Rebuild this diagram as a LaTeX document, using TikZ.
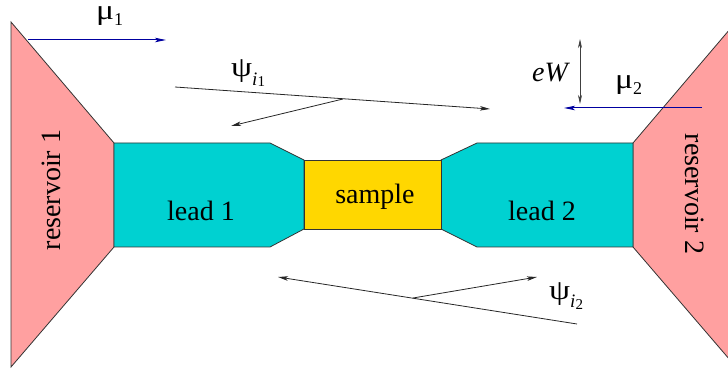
\documentclass[tikz,border=0pt]{standalone}
\usepackage{fontspec}
\setmainfont{Liberation Serif}
\usetikzlibrary{arrows.meta}
\definecolor{respink}{RGB}{255,160,160}
\definecolor{leadcyan}{RGB}{0,209,209}
\definecolor{samplegold}{RGB}{255,215,0}
\definecolor{potblue}{RGB}{0,0,160}
\newcommand{\mygreek}[1]{\scalebox{1.2}[1.0]{#1}}
\newcommand{\mysub}[1]{\raisebox{-6pt}{\fontsize{18}{18}\selectfont #1}}
\newcommand{\mypsisub}[1]{\raisebox{-9pt}{\fontsize{19}{19}\selectfont\itshape i\raisebox{-1pt}{\upshape\fontsize{15}{15}\selectfont #1}}}
\begin{document}
\begin{tikzpicture}[x=1pt,y=-1pt,
 region/.style={draw=black!80,line width=0.8pt,line join=miter},
 lbl/.style={inner sep=0pt,font=\fontsize{28}{30}\selectfont},
 wave/.style={line width=0.8pt,draw=black!85,-{Stealth[length=10pt,width=4.5pt,inset=2.5pt]}},
 pot/.style={line width=1pt,draw=potblue,-{Stealth[length=11pt,width=4.5pt,inset=2.5pt]}},
 gap/.style={line width=0.8pt,draw=black!75,{Stealth[length=9pt,width=4pt,inset=2.5pt]}-{Stealth[length=9pt,width=4pt,inset=2.5pt]}}]
\useasboundingbox (0,0) rectangle (728,371);
\clip (0,0) rectangle (728,371);
% regions
\path[region,fill=respink] (11,22) -- (114,143) -- (114,247) -- (11,367) -- cycle;
\path[region,fill=respink] (633,143) -- (736,22) -- (736,367) -- (633,247) -- cycle;
\path[region,fill=leadcyan] (114,143) -- (270,143) -- (304,160) -- (304,229) -- (270,247) -- (114,247) -- cycle;
\path[region,fill=leadcyan] (441,160) -- (477,143) -- (633,143) -- (633,247) -- (477,247) -- (441,229) -- cycle;
\path[region,fill=samplegold] (304,160) rectangle (441,229);
% labels
\node[lbl,rotate=90] (res1) at (51,190) {reservoir 1};
\node[lbl,rotate=-90] (res2) at (695,194) {reservoir 2};
\node[lbl,anchor=base] (lead1) at (201,221) {lead 1};
\node[lbl,anchor=base] (samp) at (375,204) {sample};
\node[lbl,anchor=base] (lead2) at (542,221) {lead 2};
\node[lbl,anchor=base west] (mu1) at (96,20) {\mygreek{μ}\mysub{1}};
\node[lbl,anchor=base west] (mu2) at (615,89) {\mygreek{μ}\mysub{2}};
\node[lbl,anchor=base west] (ew) at (532,82) {\textit{eW}};
\node[lbl,anchor=base west] (psi1) at (231,77) {\mygreek{ψ}\mypsisub{1}};
\node[lbl,anchor=base west] (psi2) at (549,299) {\mygreek{ψ}\mypsisub{2}};
% connector end points
\coordinate (mu1a) at (28,40);  \coordinate (mu1b) at (166,40);
\coordinate (mu2a) at (702,108); \coordinate (mu2b) at (564,108);
\coordinate (ewa) at (580,39);  \coordinate (ewb) at (580,104);
\coordinate (p1a) at (175,87);  \coordinate (p1b) at (490,109);
\coordinate (p1c) at (343,99);  \coordinate (p1d) at (231,126);
\coordinate (p2a) at (577,324); \coordinate (p2b) at (278,277);
\coordinate (p2c) at (413,298); \coordinate (p2d) at (537,277);
% connectors
\draw[pot] (mu1a) -- (mu1b);
\draw[pot] (mu2a) -- (mu2b);
\draw[gap] (ewa) -- (ewb);
\draw[wave] (p1a) -- (p1b);
\draw[wave] (p1c) -- (p1d);
\draw[wave] (p2a) -- (p2b);
\draw[wave] (p2c) -- (p2d);
\end{tikzpicture}
\end{document}
